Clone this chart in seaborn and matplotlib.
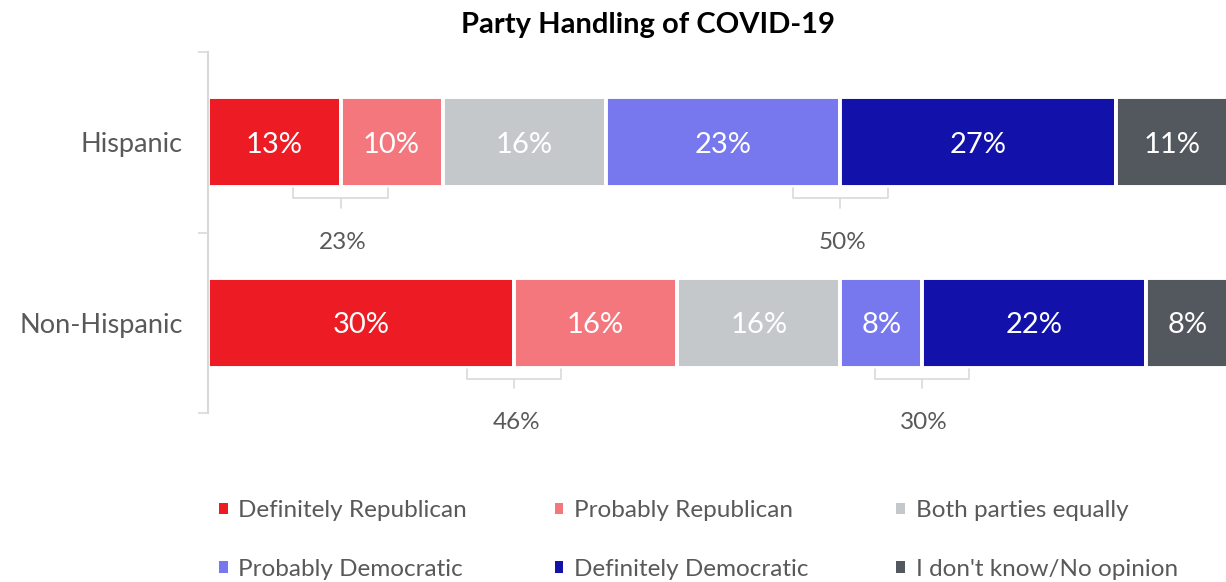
import matplotlib.pyplot as plt
import seaborn as sns
import pandas as pd
from matplotlib.patches import Patch

# Dados (percentuais)
grupos = ['Hispanic', 'Non-Hispanic']
categorias = ['Definitely Republican', 'Probably Republican', 'Both parties equally',
              'Probably Democratic', 'Definitely Democratic', "I don't know/No opinion"]
definitely_rep = [13, 30]
probably_rep = [10, 16]
both_equal = [16, 16]
probably_dem = [23, 8]
definitely_dem = [27, 22]
dont_know = [11, 8]

cores = ['#ED1C24', '#F4777E', '#C5C8CB', '#7777EE', '#1212AA', '#53575E']

df = pd.DataFrame({
    'grupo': grupos,
    categorias[0]: definitely_rep,
    categorias[1]: probably_rep,
    categorias[2]: both_equal,
    categorias[3]: probably_dem,
    categorias[4]: definitely_dem,
    categorias[5]: dont_know,
})

sns.set_theme(style='white')
plt.rcParams['font.family'] = ['Lato', 'DejaVu Sans']
cinza = '#595959'
linha = '#d9d9d9'

fig = plt.figure(figsize=(12.26, 5.82), dpi=100)
ax = fig.add_axes([208 / 1226, 1 - 413 / 582, 1020 / 1226, 361 / 582])

# Barras empilhadas
left = [0, 0]
for cat, cor in zip(categorias, cores):
    sns.barplot(data=df, x=cat, y='grupo', orient='h', left=left, color=cor,
                saturation=1, width=0.5, edgecolor='white', linewidth=2.8,
                errorbar=None, ax=ax)
    for i, (l, v) in enumerate(zip(left, df[cat])):
        ax.text(l + v / 2, i + 0.015, f'{v}%', ha='center', va='center',
                color='white', fontsize=21)
    left = [l + v for l, v in zip(left, df[cat])]

# Colchetes com as somas (Republicano e Democrata)
def colchete(x_centro, y, total):
    meia = 4.65
    y0, y1, y2 = y + 0.255, y + 0.31, y + 0.362
    ax.plot([x_centro - meia, x_centro - meia, x_centro + meia, x_centro + meia],
            [y0, y1, y1, y0], color=linha, lw=1.2, clip_on=False)
    ax.plot([x_centro, x_centro], [y1, y2], color=linha, lw=1.2, clip_on=False)
    ax.text(x_centro + 0.2, y + 0.555, f'{total}%', ha='center', va='center',
            color=cinza, fontsize=17.5, clip_on=False)

for i in range(len(grupos)):
    rep = definitely_rep[i] + probably_rep[i]
    colchete(definitely_rep[i], i, rep)
    inicio_dem = definitely_rep[i] + probably_rep[i] + both_equal[i]
    colchete(inicio_dem + probably_dem[i], i, probably_dem[i] + definitely_dem[i])

ax.set_xlim(0, 100)
ax.set_ylim(1.5, -0.5)
ax.set_xlabel('')
ax.set_ylabel('')
ax.set_xticks([])
ax.set_yticks([-0.5, 0.5, 1.5], minor=True)
ax.tick_params(axis='y', which='major', length=0, pad=18, labelsize=19.5, labelcolor=cinza)
ax.tick_params(axis='y', which='minor', length=7, width=1.2, color=linha, direction='out', left=True)
for s in ['top', 'right', 'bottom']:
    ax.spines[s].set_visible(False)
ax.spines['left'].set_color(linha)
ax.spines['left'].set_linewidth(1.5)

fig.text(648 / 1226, 1 - 25 / 582, 'Party Handling of COVID-19', ha='center', va='center',
         fontsize=21, fontweight='bold', color='black')

# Legenda em 2 linhas, preenchida por linha
ordem = [0, 3, 1, 4, 2, 5]
handles = [Patch(facecolor=cores[k], edgecolor='none') for k in ordem]
labels = [categorias[k] for k in ordem]
fig.legend(handles, labels, ncol=3, loc='upper left',
           bbox_to_anchor=(219 / 1226, 1 - 500 / 582), frameon=False, fontsize=17.5,
           handlelength=0.35, handleheight=0.35, handletextpad=0.45,
           columnspacing=3.6, labelspacing=1.55, borderpad=0, borderaxespad=0,
           labelcolor=cinza)

plt.savefig('out.png', dpi=100)
